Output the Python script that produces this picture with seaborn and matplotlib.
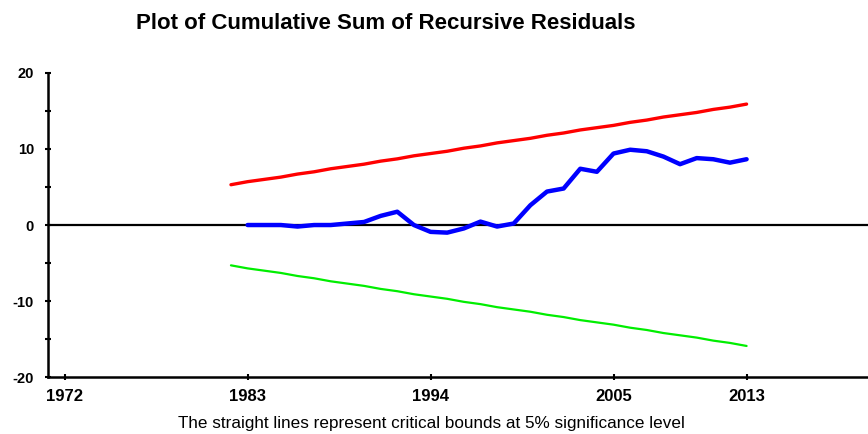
import matplotlib
matplotlib.use('Agg')
import matplotlib.pyplot as plt
from matplotlib.ticker import MultipleLocator
import pandas as pd
import seaborn as sns

sns.set_style('white')
plt.rcParams['font.family'] = ['Liberation Sans', 'DejaVu Sans']
plt.rcParams['axes.unicode_minus'] = False

# data
years_bound = list(range(1982, 2014))
upper = [5.3, 5.7, 6.0, 6.3, 6.7, 7.0, 7.4, 7.7, 8.0, 8.4, 8.7, 9.1, 9.4, 9.7, 10.1, 10.4,
         10.8, 11.1, 11.4, 11.8, 12.1, 12.5, 12.8, 13.1, 13.5, 13.8, 14.2, 14.5, 14.8, 15.2, 15.5, 15.9]
lower = [-5.3, -5.7, -6.0, -6.3, -6.7, -7.0, -7.4, -7.7, -8.0, -8.4, -8.7, -9.1, -9.4, -9.7, -10.1, -10.4,
         -10.8, -11.1, -11.4, -11.8, -12.1, -12.5, -12.8, -13.1, -13.5, -13.8, -14.2, -14.5, -14.8, -15.2, -15.5, -15.9]

years_cusum = list(range(1983, 2014))
cusum = [0.0, 0.0, 0.0, -0.2, 0.0, 0.0, 0.2, 0.4, 1.2, 1.75, 0.0, -0.9, -1.0, -0.45, 0.45, -0.2,
         0.2, 2.6, 4.4, 4.8, 7.4, 7.0, 9.4, 9.9, 9.7, 9.0, 8.0, 8.8, 8.65, 8.2, 8.65]

xtick_years = [1972, 1983, 1994, 2005, 2013]

df_bound = pd.DataFrame({'year': years_bound, 'upper': upper, 'lower': lower})
df_cusum = pd.DataFrame({'year': years_cusum, 'cusum': cusum})

fig = plt.figure(figsize=(8.68, 4.34), dpi=100)
ax = fig.add_axes([0.0553, 0.131, 0.9447, 0.701])

ax.axhline(0, color='black', lw=1.6, zorder=1)
sns.lineplot(x='year', y='upper', data=df_bound, color='#ff0000', lw=2.4, ax=ax)
sns.lineplot(x='year', y='lower', data=df_bound, color='#00ee00', lw=1.6, ax=ax)
sns.lineplot(x='year', y='cusum', data=df_cusum, color='#0000ff', lw=3.2, ax=ax)

ax.set_xlim(1971, 2020.3)
ax.set_ylim(-20, 20)
ax.set_xticks(xtick_years)
ax.set_yticks([-20, -10, 0, 10, 20])
ax.yaxis.set_minor_locator(MultipleLocator(5))
ax.tick_params(axis='both', which='both', direction='inout', width=1.5, color='black',
               bottom=True, left=True, labelcolor='black')
ax.tick_params(axis='y', which='major', length=5, pad=7.5)
ax.tick_params(axis='y', which='minor', length=5)
ax.tick_params(axis='x', which='major', length=5, pad=6)
for lab in ax.get_xticklabels():
    lab.set_fontweight('bold')
    lab.set_fontsize(12)
for lab in ax.get_yticklabels():
    lab.set_fontweight('bold')
    lab.set_fontsize(10.5)

for side in ['top', 'right']:
    ax.spines[side].set_visible(False)
for side in ['left', 'bottom']:
    ax.spines[side].set_linewidth(1.8)
    ax.spines[side].set_color('black')

ax.set_xlabel('')
ax.set_ylabel('')

fig.text(0.444, 0.945, 'Plot of Cumulative Sum of Recursive Residuals',
         ha='center', va='center', fontsize=16, fontweight='bold', color='black')
fig.text(0.4975, 0.025, 'The straight lines represent critical bounds at 5% significance level',
         ha='center', va='center', fontsize=12.3, color='black')

fig.savefig('out.png', dpi=100)
